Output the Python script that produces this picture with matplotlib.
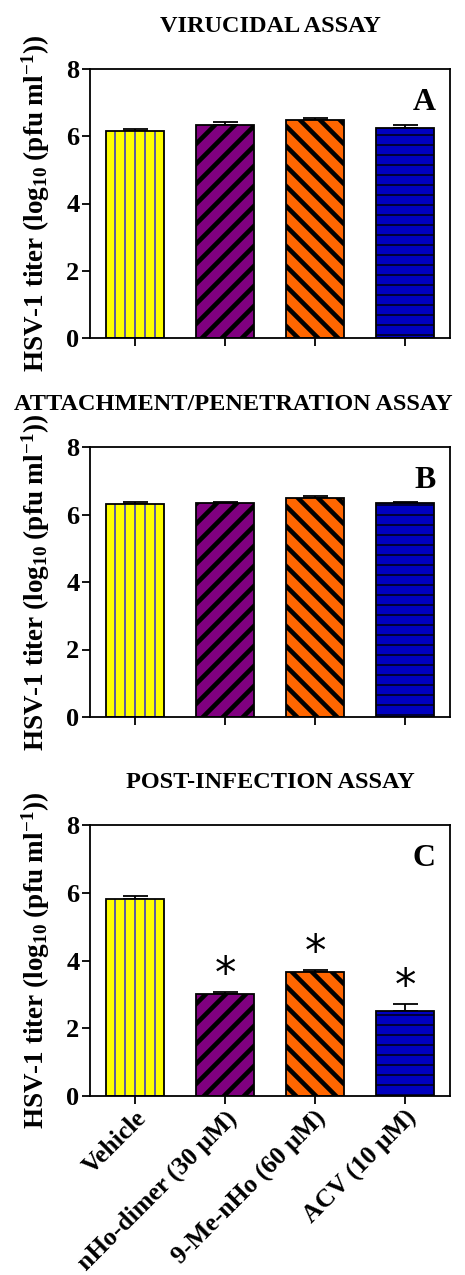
import numpy as np
import matplotlib
matplotlib.use("Agg")
import matplotlib.pyplot as plt

plt.rcParams["font.family"] = ["Liberation Serif", "DejaVu Serif"]
plt.rcParams["font.weight"] = "bold"
plt.rcParams["mathtext.fontset"] = "custom"
plt.rcParams["mathtext.rm"] = "Liberation Serif:bold"
plt.rcParams["mathtext.default"] = "regular"

# Data
categories = ["Vehicle", "nHo-dimer (30 \u03bcM)", "9-Me-nHo (60 \u03bcM)", "ACV (10 \u03bcM)"]
panel_titles = ["VIRUCIDAL ASSAY", "ATTACHMENT/PENETRATION ASSAY", "POST-INFECTION ASSAY"]
panel_letters = ["A", "B", "C"]

virucidal_mean = [6.16, 6.34, 6.47, 6.24]
virucidal_err = [0.05, 0.08, 0.08, 0.09]
attachment_mean = [6.32, 6.35, 6.48, 6.35]
attachment_err = [0.06, 0.03, 0.07, 0.03]
postinf_mean = [5.83, 3.02, 3.66, 2.52]
postinf_err = [0.07, 0.04, 0.05, 0.21]
postinf_signif = [False, True, True, True]

fill_colors = ["#ffff00", "#800080", "#ff6600", "#0000c0"]
hatch_colors = ["#0000ff", "black", "black", "black"]
hatches = ["||", "//", "\\\\", "--"]
hatch_widths = [0.9, 3.3, 3.3, 1.0]

y_ticks = [0, 2, 4, 6, 8]

panels = [
    (virucidal_mean, virucidal_err, None),
    (attachment_mean, attachment_err, None),
    (postinf_mean, postinf_err, postinf_signif),
]

# dpi 120 gives a ~10 px hatch spacing; S keeps sizes as if drawn at dpi 100
DPI = 120
S = 100 / DPI
W, H = 465, 1275
fig = plt.figure(figsize=(W / DPI, H / DPI), dpi=DPI)

# axes boxes in pixels: (top, bottom)
boxes = [(69, 338), (447, 717), (825, 1096)]
ax_left, ax_right = 90, 450
# title centre, in axes fraction (the long B title sits left of centre)
title_x = [0.5, 0.397, 0.5]

ylabel = r"HSV-1 titer (log$_{10}$ (pfu ml$^{-1}$))"

x = np.arange(len(categories))
for i, (means, errs, signif) in enumerate(panels):
    top, bottom = boxes[i]
    ax = fig.add_axes([ax_left / W, 1 - bottom / H, (ax_right - ax_left) / W, (bottom - top) / H])

    for j in range(len(categories)):
        # hatch layer: edge colour sets hatch colour
        b = ax.bar(x[j], means[j], width=0.64, color=fill_colors[j], edgecolor=hatch_colors[j],
                   hatch=hatches[j], linewidth=0, zorder=2)
        for p in b:
            if hasattr(p, "set_hatch_linewidth"):
                p.set_hatch_linewidth(hatch_widths[j] * S)
        # outline
        ax.bar(x[j], means[j], width=0.64, color="none", edgecolor="black",
               linewidth=1.3 * S, zorder=3)

    ax.errorbar(x, means, yerr=[np.zeros(len(errs)), errs], fmt="none", ecolor="black",
                elinewidth=1.3 * S, capsize=9 * S, capthick=1.3 * S, zorder=1)

    if signif is not None:
        for j in range(len(categories)):
            if signif[j]:
                ax.text(x[j], means[j] + errs[j] + 0.5, "*", ha="center", va="center",
                        fontsize=31 * S, fontweight="normal", family="DejaVu Sans")

    ax.set_xlim(-0.5, 3.5)
    ax.set_ylim(0, 8)
    ax.set_yticks(y_ticks)
    ax.set_yticklabels([str(t) for t in y_ticks], fontsize=19 * S, fontweight="bold")
    ax.set_xticks(x)
    if i == 2:
        ax.set_xticklabels(categories, rotation=45, ha="right", rotation_mode="anchor",
                           fontsize=18.5 * S, fontweight="bold")
    else:
        ax.set_xticklabels([])
    ax.tick_params(axis="both", direction="out", length=6 * S, width=1.3 * S, pad=1.5 * S)
    for s in ax.spines.values():
        s.set_linewidth(1.3 * S)

    ax.set_ylabel(ylabel, fontsize=19.5 * S, fontweight="bold", labelpad=10 * S)
    ax.set_title(panel_titles[i], x=title_x[i], fontsize=17.5 * S, fontweight="bold", pad=27 * S)
    ax.text(0.96, 0.93, panel_letters[i], transform=ax.transAxes, ha="right", va="top",
            fontsize=23 * S, fontweight="bold")

fig.savefig("out.png", dpi=DPI)
